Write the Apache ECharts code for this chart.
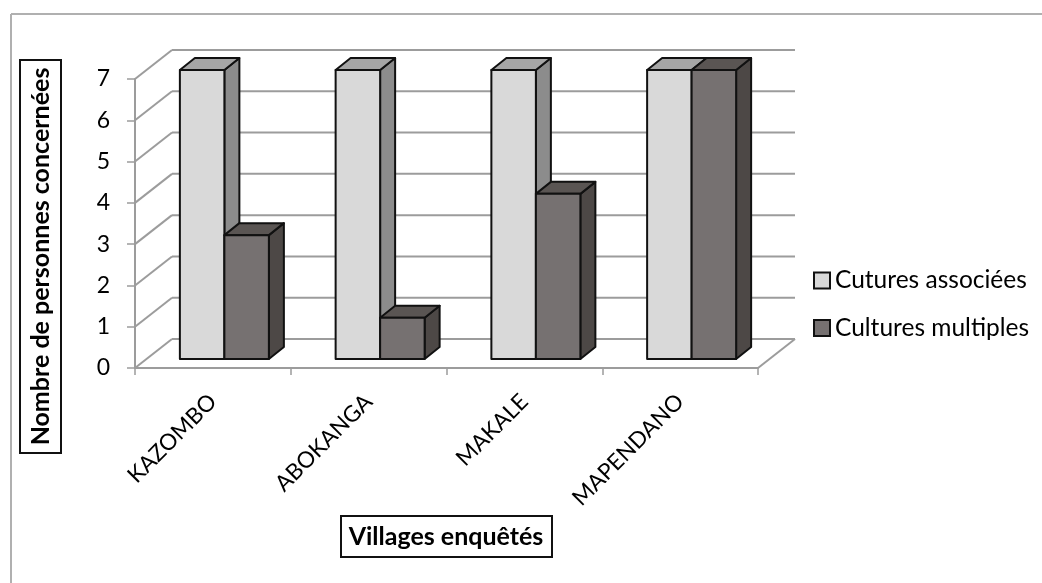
<!DOCTYPE html>
<html><head><meta charset="utf-8">
<style>html,body{margin:0;padding:0;background:#fff}#c{width:1042px;height:583px}</style>
<script src="https://cdn.jsdelivr.net/npm/echarts@6/dist/echarts.min.js"></script>
</head><body><div id="c"></div>
<script>
const categories = ['KAZOMBO', 'ABOKANGA', 'MAKALE', 'MAPENDANO'];
const associees = [7, 7, 7, 7];
const multiples = [3, 1, 4, 7];
const yTicks = [0, 1, 2, 3, 4, 5, 6, 7];
const FONT = 'Lato, "Open Sans", sans-serif';
const GL = 135, GT = 79, GW = 623, GH = 289;
const WALL = [37, -29], SHIFT = [11.5, -9], DEPTH = [15, -12], BARW = 44.5, EDGE = '#111';
const WALLC = '#9c9c9c';

function poly(pts, fill) {
  return { type: 'polygon', shape: { points: pts }, style: { fill, stroke: EDGE, lineWidth: 2, lineJoin: 'round' } };
}
function barRender(side, colors) {
  return function (params, api) {
    const p0 = api.coord([api.value(0), 0]), p1 = api.coord([api.value(0), api.value(1)]);
    const xL = p0[0] + SHIFT[0] + (side === 0 ? -BARW : 0), xR = xL + BARW;
    const yB = p0[1] + SHIFT[1], yT = p1[1] + SHIFT[1];
    const dx = DEPTH[0], dy = DEPTH[1];
    return { type: 'group', children: [
      poly([[xR, yT], [xR + dx, yT + dy], [xR + dx, yB + dy], [xR, yB]], colors.side),
      poly([[xL, yT], [xL + dx, yT + dy], [xR + dx, yT + dy], [xR, yT]], colors.top),
      poly([[xL, yB], [xR, yB], [xR, yT], [xL, yT]], colors.front)
    ]};
  };
}
function wallRender(params, api) {
  const v = api.value(0);
  const a = api.coord([0, v]);
  const xL = GL, xR = GL + GW;
  const ls = { stroke: WALLC, lineWidth: 2 };
  const ch = [
    { type: 'line', shape: { x1: xL, y1: a[1], x2: xL + WALL[0], y2: a[1] + WALL[1] }, style: ls },
    { type: 'line', shape: { x1: xL + WALL[0], y1: a[1] + WALL[1], x2: xR + WALL[0], y2: a[1] + WALL[1] }, style: ls }
  ];
  if (v === 0) ch.push({ type: 'line', shape: { x1: xR, y1: a[1], x2: xR + WALL[0], y2: a[1] + WALL[1] }, style: ls });
  return { type: 'group', children: ch };
}
const colA = { front: '#d9d9d9', side: '#8c8c8c', top: '#a6a6a6' };
const colB = { front: '#767171', side: '#4d4846', top: '#5a5553' };
function rows(vals) { return vals.map((v, i) => [categories[i], v]); }

const chart = echarts.init(document.getElementById('c'), null, { renderer: 'canvas' });
chart.setOption({
  animation: false,
  backgroundColor: '#ffffff',
  textStyle: { fontFamily: FONT },
  grid: { left: GL, top: GT, width: GW, height: GH, containLabel: false },
  xAxis: {
    type: 'category', data: categories,
    axisLine: { lineStyle: { color: WALLC, width: 2 } },
    axisTick: { show: true, length: 7, alignWithLabel: false, lineStyle: { color: WALLC, width: 1.5 } },
    axisLabel: { rotate: 45, fontSize: 22.5, color: '#000', fontFamily: FONT, margin: 30, interval: 0 },
    splitLine: { show: false }
  },
  yAxis: {
    type: 'value', min: 0, max: 7, interval: 1,
    axisLine: { show: true, lineStyle: { color: WALLC, width: 2 } },
    axisTick: { show: true, length: 8, lineStyle: { color: WALLC, width: 1.5 } },
    axisLabel: { fontSize: 23, color: '#000', fontFamily: FONT, margin: 25, padding: [4, 0, 0, 0] },
    splitLine: { show: false }
  },
  legend: {
    orient: 'vertical', left: 813, top: 268, itemWidth: 16, itemHeight: 16, itemGap: 22.5,
    icon: 'rect',
    textStyle: { fontSize: 24.5, color: '#000', fontFamily: FONT },
    padding: 0,
    data: [
      { name: 'Cutures associées', itemStyle: { color: colA.front, borderColor: EDGE, borderWidth: 2 } },
      { name: 'Cultures multiples', itemStyle: { color: colB.front, borderColor: EDGE, borderWidth: 2 } }
    ]
  },
  graphic: [
    { type: 'line', silent: true, shape: { x1: 11, y1: 14, x2: 1042, y2: 14 }, style: { stroke: '#b0b0b0', lineWidth: 2 } },
    { type: 'line', silent: true, shape: { x1: 11, y1: 14, x2: 11, y2: 583 }, style: { stroke: '#b0b0b0', lineWidth: 2 } },
    { type: 'rect', silent: true, shape: { x: 20, y: 60, width: 41, height: 393 }, style: { fill: '#fff', stroke: '#111', lineWidth: 2 } },
    { type: 'text', silent: true, x: 40.5, y: 256.5, rotation: Math.PI / 2, style: { text: 'Nombre de personnes concernées', font: 'bold 25px ' + FONT, fill: '#000', align: 'center', verticalAlign: 'middle' } },
    { type: 'rect', silent: true, shape: { x: 341, y: 516, width: 211, height: 41 }, style: { fill: '#fff', stroke: '#111', lineWidth: 2 } },
    { type: 'text', silent: true, x: 446, y: 537, style: { text: 'Villages enquêtés', font: 'bold 25px ' + FONT, fill: '#000', align: 'center', verticalAlign: 'middle' } }
  ],
  series: [
    { type: 'custom', name: 'wall', silent: true, data: yTicks.map(v => [v]), encode: { y: 0 }, renderItem: wallRender, z: 1, clip: false },
    { type: 'custom', name: 'Cutures associées', data: rows(associees), encode: { x: 0, y: 1 }, renderItem: barRender(0, colA), z: 2, clip: false, itemStyle: { color: colA.front } },
    { type: 'custom', name: 'Cultures multiples', data: rows(multiples), encode: { x: 0, y: 1 }, renderItem: barRender(1, colB), z: 3, clip: false, itemStyle: { color: colB.front } }
  ]
});
</script></body></html>
